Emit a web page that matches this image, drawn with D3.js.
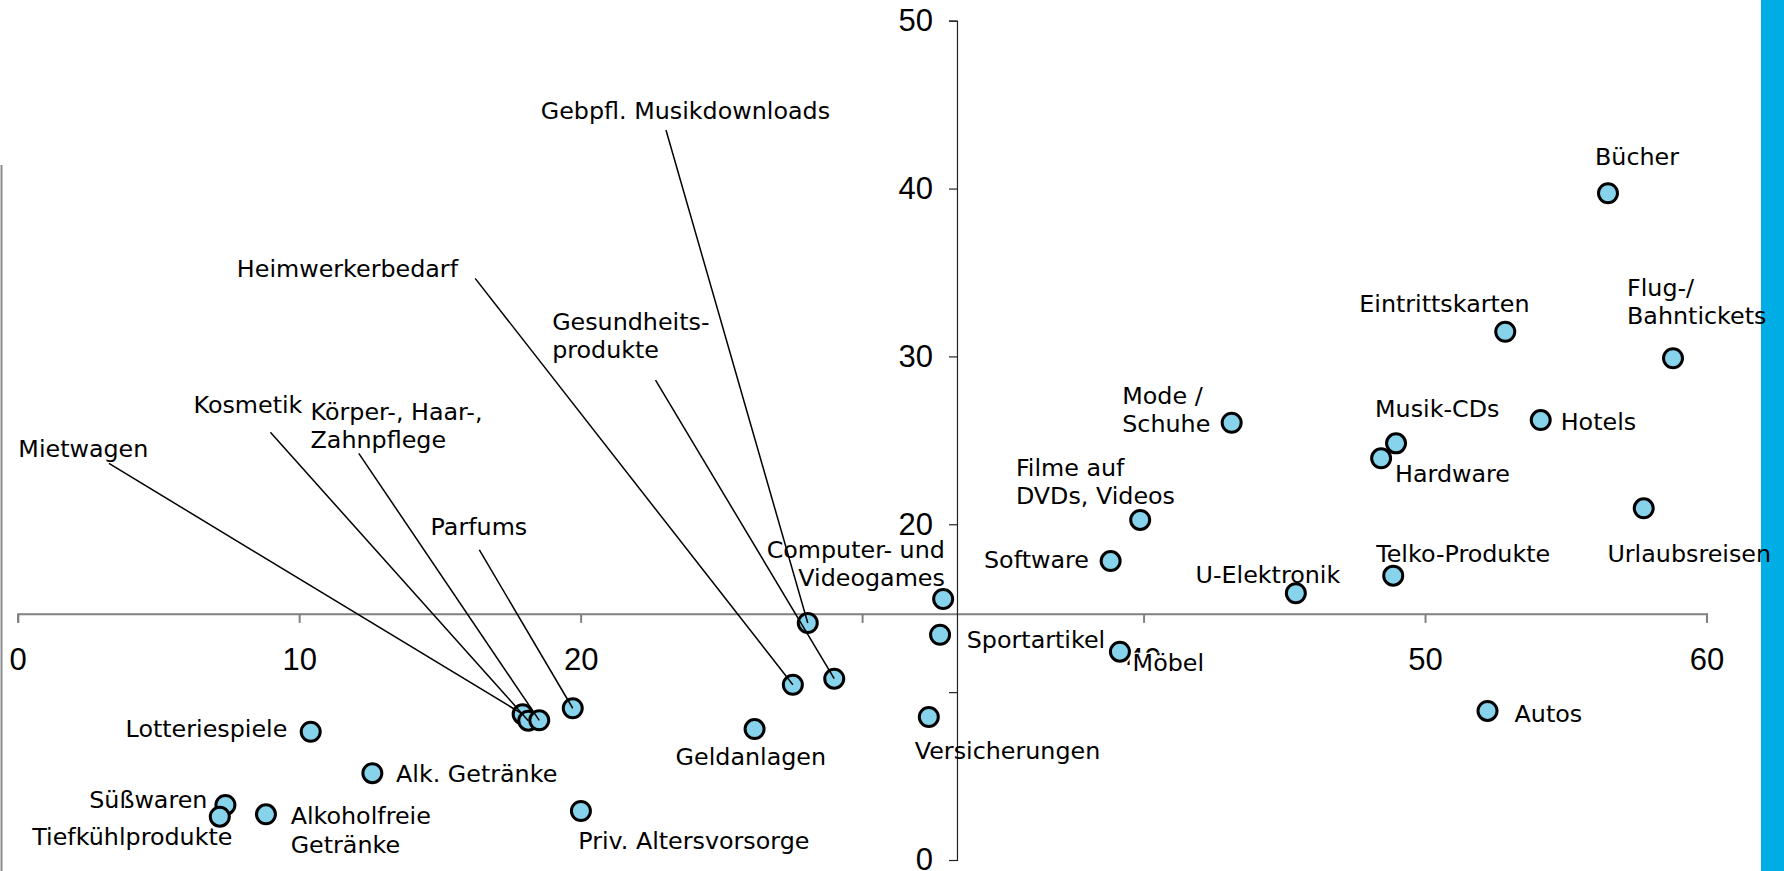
<!DOCTYPE html>
<meta charset="utf-8">
<title>Online-Kauf nach Produktgruppen</title>
<style>
body { margin: 0; background: #fff; }
svg { display: block; }
.lbl { font-family: "DejaVu Sans", Verdana, sans-serif; font-size: 23.8px; fill: #000; }
.axis text { font-family: "Liberation Sans", Arial, sans-serif; font-size: 31px; fill: #000; }
.xaxis path, .xaxis line { stroke: #808080; stroke-width: 2px; }
.yaxis path, .yaxis line { stroke: #222; stroke-width: 1.2px; }
.dot { fill: #88d3ec; stroke: #000; stroke-width: 3px; }
.leader { stroke: #000; stroke-width: 1.5px; }
</style>
<body>
<script src="https://cdn.jsdelivr.net/npm/d3@7"></script>
<script>
var width = 1784, height = 871;

// categories (line breaks as in the chart labels)
var names = [
  "Bücher", "Eintrittskarten", "Flug-/\nBahntickets", "Hotels", "Mode /\nSchuhe",
  "Musik-CDs", "Hardware", "Urlaubsreisen", "Filme auf\nDVDs, Videos", "Software",
  "Telko-Produkte", "U-Elektronik", "Computer- und\nVideogames", "Sportartikel", "Möbel",
  "Autos", "Versicherungen", "Gebpfl. Musikdownloads", "Gesundheits-\nprodukte", "Heimwerkerbedarf",
  "Geldanlagen", "Priv. Altersvorsorge", "Parfums", "Mietwagen", "Kosmetik",
  "Körper-, Haar-,\nZahnpflege", "Lotteriespiele", "Alk. Getränke", "Süßwaren", "Tiefkühlprodukte",
  "Alkoholfreie\nGetränke"
];
var xVals = [
  56.50, 52.85, 58.81, 54.11, 43.13,
  48.97, 48.44, 57.77, 39.88, 38.83,
  48.87, 45.41, 32.88, 32.77, 39.16,
  52.22, 32.37, 28.07, 29.01, 27.54,
  26.18, 20.01, 19.72, 17.94, 18.14,
  18.53, 10.41, 12.60, 7.38, 7.18,
  8.82
];
var yVals = [
  39.72, 31.47, 29.89, 26.21, 26.05,
  24.82, 23.93, 20.95, 20.26, 17.81,
  16.94, 15.89, 15.55, 13.42, 12.41,
  8.88, 8.52, 14.12, 10.80, 10.44,
  7.80, 2.92, 9.04, 8.69, 8.30,
  8.32, 7.64, 5.17, 3.28, 2.58,
  2.72
];
var xTicks = [0, 10, 20, 30, 40, 50, 60];
var yTicks = [0, 10, 20, 30, 40, 50];

// label placement: px offset from the point [dx, dy, anchor, leader dx, leader dy]
var labelPos = {
  "Bücher": [-13, -28, "start"],
  "Eintrittskarten": [-146, -20, "start"],
  "Flug-/\nBahntickets": [-46, -62.6, "start"],
  "Hotels": [20, 10, "start"],
  "Mode /\nSchuhe": [-109.4, -18.7, "start"],
  "Musik-CDs": [-21, -26, "start"],
  "Hardware": [14, 23.4, "start"],
  "Urlaubsreisen": [-36.3, 53.7, "start"],
  "Filme auf\nDVDs, Videos": [-124.3, -44, "start"],
  "Software": [-21.7, 7.3, "end"],
  "Telko-Produkte": [-17, -13.7, "start"],
  "U-Elektronik": [-100.3, -10, "start"],
  "Computer- und\nVideogames": [1.7, -41.3, "end"],
  "Sportartikel": [26.7, 13, "start"],
  "Möbel": [12.7, 19, "start"],
  "Autos": [27, 10.7, "start"],
  "Versicherungen": [-14, 42, "start"],
  "Gebpfl. Musikdownloads": [-267, -503.7, "start", -141.8, -493],
  "Gesundheits-\nprodukte": [-282.1, -348.7, "start", -178.7, -298.7],
  "Heimwerkerbedarf": [-556, -408, "start", -317.7, -406.4],
  "Geldanlagen": [-79, 36, "start"],
  "Priv. Altersvorsorge": [-2.7, 38.3, "start"],
  "Parfums": [-142.2, -173.3, "start", -93.4, -158.3],
  "Mietwagen": [-504.3, -257.3, "start", -413.7, -250.7],
  "Kosmetik": [-334.8, -307.4, "start", -257.9, -288.4],
  "Körper-, Haar-,\nZahnpflege": [-228.7, -300.3, "start", -180.5, -267],
  "Lotteriespiele": [-23.4, 5, "end"],
  "Alk. Getränke": [23.7, 9, "start"],
  "Süßwaren": [-18, 3.3, "end"],
  "Tiefkühlprodukte": [12.6, 28.3, "end"],
  "Alkoholfreie\nGetränke": [24.7, 10, "start"]
};
var withBackground = ["Möbel"];
var lineHeight = 28.4;

var pts = names.map(function(n, i) { return {name: n, x: xVals[i], y: yVals[i]}; });

var x = d3.scaleLinear().domain([0, 60]).range([17.7, 1706.5]);
var y = d3.scaleLinear().domain([0, 50]).range([860, 20.7]);

// axes cross at the means
var xCross = d3.mean(xVals), yCross = d3.mean(yVals);

var svg = d3.select("body").append("svg")
    .attr("width", width)
    .attr("height", height);

// frame line at the left edge and the blue bar on the right
svg.append("line")
    .attr("x1", 1.5).attr("x2", 1.5)
    .attr("y1", 165).attr("y2", height)
    .attr("stroke", "#8c8c8c").attr("stroke-width", 2);
svg.append("rect")
    .attr("x", 1761).attr("y", 0)
    .attr("width", width - 1761).attr("height", height)
    .attr("fill", "#00ade4");

var xAxis = d3.axisBottom(x)
    .tickValues(xTicks)
    .tickSize(9)
    .tickSizeOuter(9)
    .tickPadding(25)
    .tickFormat(function(d) { return d === 30 ? "" : d; });
svg.append("g")
    .attr("class", "axis xaxis")
    .attr("transform", "translate(0," + y(yCross) + ")")
    .call(xAxis);

var yAxis = d3.axisLeft(y)
    .tickValues(yTicks)
    .tickSize(8)
    .tickSizeOuter(8)
    .tickPadding(16)
    .tickFormat(function(d) { return d === 10 ? "" : d; });
svg.append("g")
    .attr("class", "axis yaxis")
    .attr("transform", "translate(" + x(xCross) + ",0)")
    .call(yAxis);

// labels
var labelLayer = svg.append("g");
pts.forEach(function(d) {
  var p = labelPos[d.name];
  var tx = x(d.x) + p[0], ty = y(d.y) + p[1];
  var t = labelLayer.append("text")
      .attr("class", "lbl")
      .attr("x", tx).attr("y", ty)
      .attr("text-anchor", p[2]);
  d.name.split("\n").forEach(function(line, k) {
    t.append("tspan").attr("x", tx).attr("dy", k === 0 ? 0 : lineHeight).text(line);
  });
  if (withBackground.indexOf(d.name) >= 0) {
    var b = t.node().getBBox();
    labelLayer.insert("rect", function() { return t.node(); })
        .attr("x", b.x - 3).attr("y", b.y + 4)
        .attr("width", b.width + 6).attr("height", b.height - 2)
        .attr("fill", "#fff");
  }
});

// points
svg.append("g").selectAll("circle")
    .data(pts)
  .enter().append("circle")
    .attr("class", "dot")
    .attr("cx", function(d) { return x(d.x); })
    .attr("cy", function(d) { return y(d.y); })
    .attr("r", 9.5);

// leader lines for labels that sit far away
svg.append("g").selectAll("line")
    .data(pts.filter(function(d) { return labelPos[d.name].length > 3; }))
  .enter().append("line")
    .attr("class", "leader")
    .attr("x1", function(d) { return x(d.x) + labelPos[d.name][3]; })
    .attr("y1", function(d) { return y(d.y) + labelPos[d.name][4]; })
    .attr("x2", function(d) { return x(d.x); })
    .attr("y2", function(d) { return y(d.y); });
</script>
